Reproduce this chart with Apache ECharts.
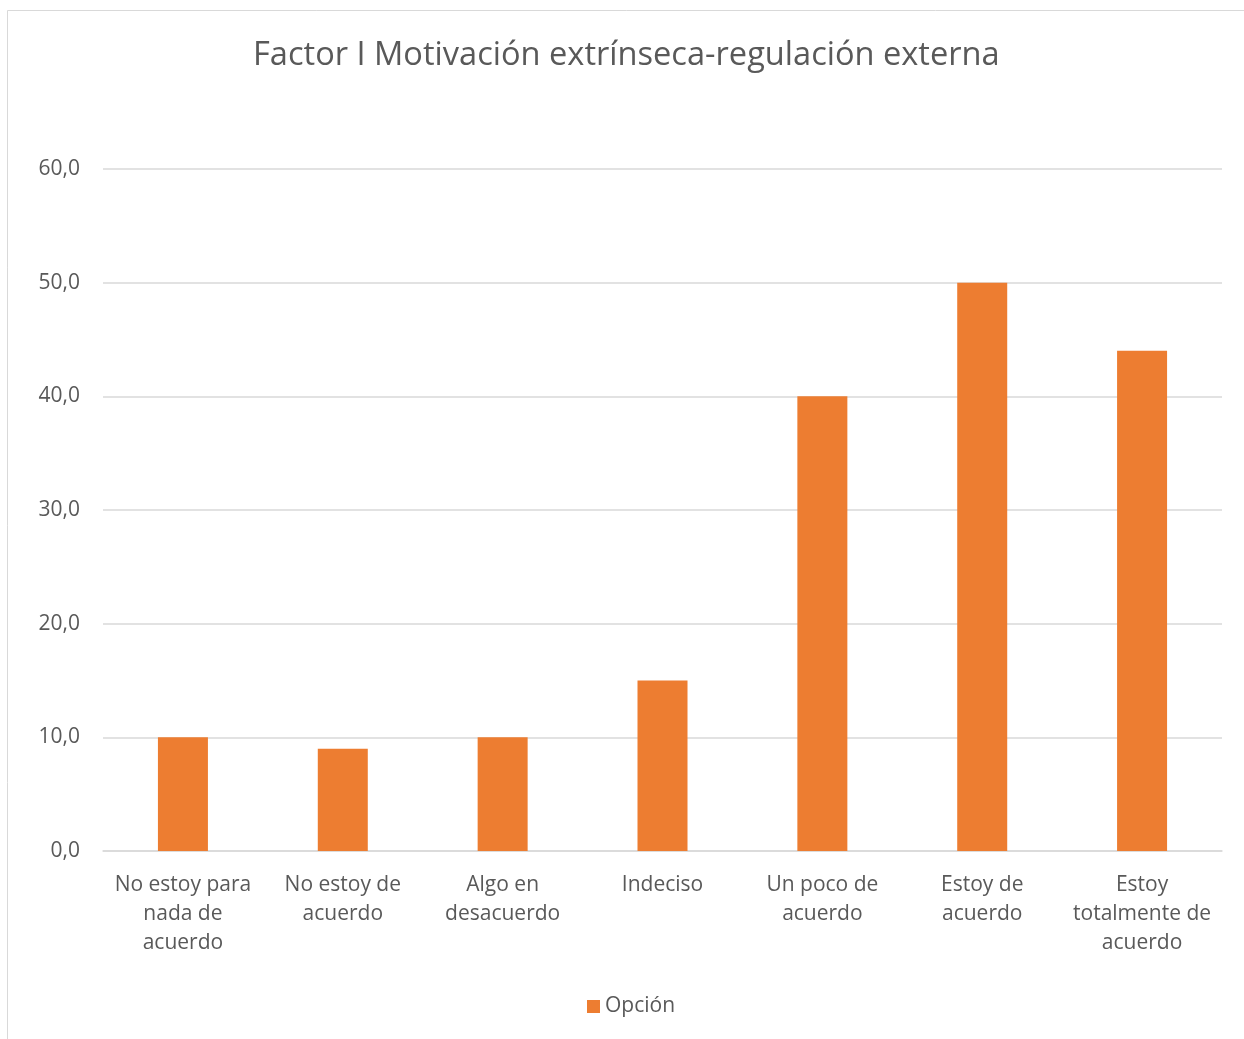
<!DOCTYPE html>
<html><head><meta charset="utf-8">
<script src="https://cdn.jsdelivr.net/npm/echarts@6/dist/echarts.min.js"></script>
<style>html,body{margin:0;padding:0;background:#fff}#c{width:1244px;height:1039px}</style>
</head><body><div id="c"></div>
<script>
const categories = ["No estoy para\nnada de\nacuerdo","No estoy de\nacuerdo","Algo en\ndesacuerdo","Indeciso","Un poco de\nacuerdo","Estoy de\nacuerdo","Estoy\ntotalmente de\nacuerdo"];
const values = [10, 9, 10, 15, 40, 50, 44];
const seriesName = "Opción";
const titleText = "Factor I Motivación extrínseca-regulación externa";
const FONT = "Open Sans";
const chart = echarts.init(document.getElementById('c'), null, {renderer:'canvas'});
chart.setOption({
  animation:false,
  backgroundColor:'#fff',
  graphic:[{type:'rect',shape:{x:7.5,y:10.5,width:1260,height:1060},style:{fill:'none',stroke:'#d9d9d9',lineWidth:1}}],
  title:{text:titleText,left:248,top:34,textStyle:{fontFamily:FONT,fontSize:32.6,fontWeight:'normal',color:'#595959'}},
  legend:{data:[seriesName],bottom:17,left:582,itemWidth:13,itemHeight:13,itemGap:6,icon:'rect',textStyle:{fontFamily:FONT,fontSize:21,color:'#595959'}},
  grid:{left:103,right:22,top:169,bottom:188,containLabel:false},
  xAxis:{type:'category',data:categories,axisTick:{show:false},axisLine:{lineStyle:{color:'#d9d9d9',width:1.5}},
    axisLabel:{interval:0,fontFamily:FONT,fontSize:21,color:'#595959',lineHeight:29,margin:20}},
  yAxis:{type:'value',min:0,max:60,interval:10,axisLine:{show:false},axisTick:{show:false},
    splitLine:{lineStyle:{color:'#d9d9d9',width:1.5}},
    axisLabel:{fontFamily:FONT,fontSize:21,color:'#595959',margin:23,formatter:v=>v.toFixed(1).replace('.',',')}},
  series:[{name:seriesName,type:'bar',data:values,barWidth:50,itemStyle:{color:'#ed7d31'}}]
});
</script></body></html>
